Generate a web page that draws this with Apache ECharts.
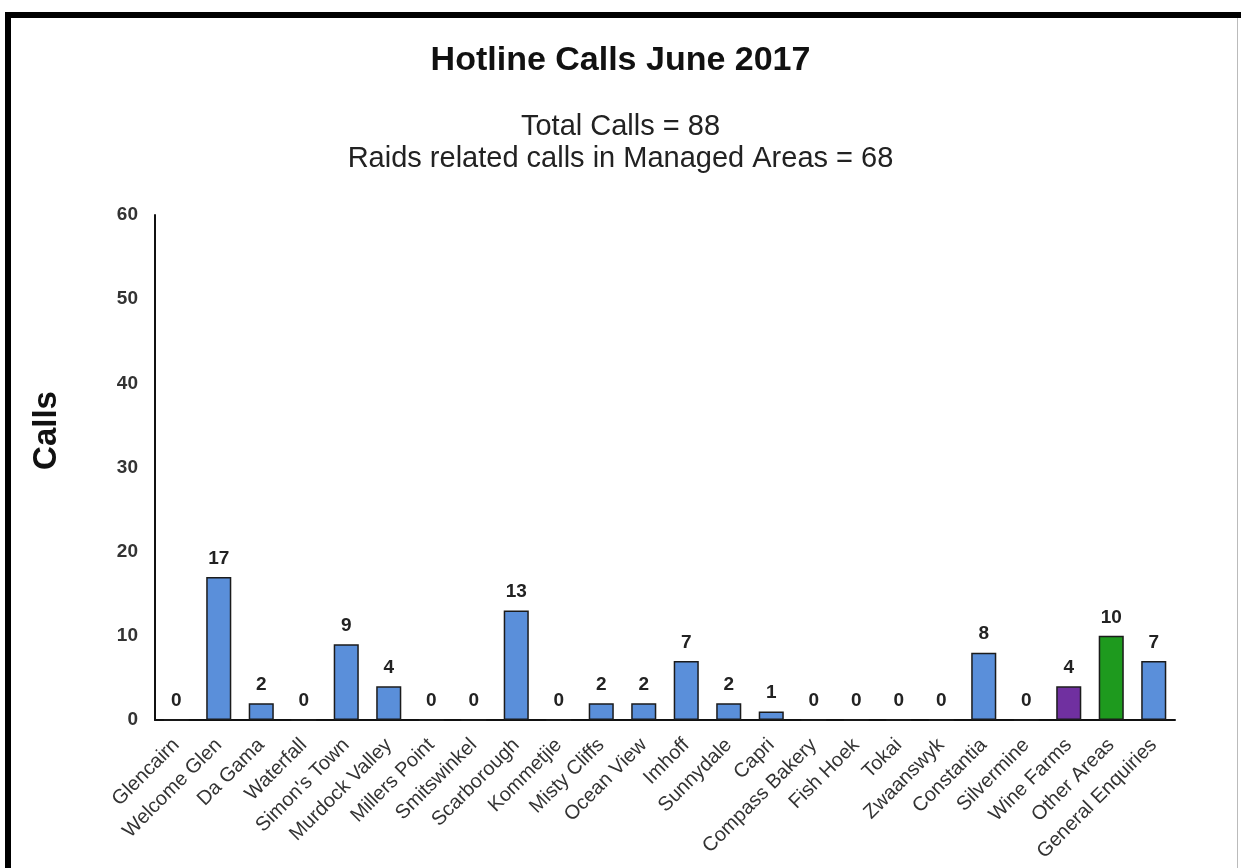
<!DOCTYPE html>
<html>
<head>
<meta charset="utf-8">
<style>
  html, body { margin: 0; padding: 0; background: #fff; }
  #chart { width: 1241px; height: 868px; }
</style>
<script src="https://cdn.jsdelivr.net/npm/echarts@6/dist/echarts.min.js"></script>
</head>
<body>
<div id="chart"></div>
<script>
const categories = ['Glencairn', 'Welcome Glen', 'Da Gama', 'Waterfall', "Simon's Town", 'Murdock Valley',
  'Millers Point', 'Smitswinkel', 'Scarborough', 'Kommetjie', 'Misty Cliffs', 'Ocean View', 'Imhoff',
  'Sunnydale', 'Capri', 'Compass Bakery', 'Fish Hoek', 'Tokai', 'Zwaanswyk', 'Constantia', 'Silvermine',
  'Wine Farms', 'Other Areas', 'General Enquiries'];
const calls = [0, 17, 2, 0, 9, 4, 0, 0, 13, 0, 2, 2, 7, 2, 1, 0, 0, 0, 0, 8, 0, 4, 10, 7];
const yTicks = [0, 10, 20, 30, 40, 50, 60];
const titleText = 'Hotline Calls June 2017';
const subtitleLines = ['Total Calls = 88', 'Raids related calls in Managed Areas = 68'];
const yAxisTitle = 'Calls';

const specialColors = { 'Wine Farms': '#7030A0', 'Other Areas': '#1E9A1E' };
const baseColor = '#5A8FDA';
const FONT = 'Arial, "Liberation Sans", sans-serif';

const chart = echarts.init(document.getElementById('chart'));
chart.setOption({
  backgroundColor: '#fff',
  animation: false,
  title: [
    { text: titleText, left: 'center', top: 39,
      textStyle: { fontFamily: FONT, fontSize: 34, fontWeight: 'bold', color: '#111' } },
    { text: subtitleLines.join('\n'), left: 'center', top: 106,
      textStyle: { fontFamily: FONT, fontSize: 29, fontWeight: 'normal', color: '#222', lineHeight: 32 } }
  ],
  graphic: [
    { type: 'rect', shape: { x: 5, y: 12, width: 6, height: 870 }, style: { fill: '#000' } },
    { type: 'rect', shape: { x: 5, y: 12, width: 1240, height: 6 }, style: { fill: '#000' } },
    { type: 'rect', shape: { x: 1237, y: 18, width: 1, height: 860 }, style: { fill: '#bbb' } }
  ],
  grid: { left: 155, right: 66, top: 215, bottom: 148, containLabel: false },
  xAxis: {
    type: 'category',
    data: categories,
    axisLine: { lineStyle: { color: '#111', width: 2 } },
    axisTick: { show: false },
    axisLabel: { rotate: 45, interval: 0, fontFamily: FONT, fontSize: 20, color: '#333', margin: 22 }
  },
  yAxis: {
    type: 'value',
    min: yTicks[0], max: yTicks[yTicks.length - 1], interval: 10,
    name: yAxisTitle, nameLocation: 'middle', nameGap: 92, nameRotate: 90,
    nameTextStyle: { fontFamily: FONT, fontSize: 33, fontWeight: 'bold', color: '#111', padding: [0, 0, 0, 74] },
    axisLine: { show: true, lineStyle: { color: '#111', width: 2 } },
    axisTick: { show: false },
    splitLine: { show: false },
    axisLabel: { fontFamily: FONT, fontSize: 19, fontWeight: 'bold', color: '#333', margin: 17 }
  },
  series: [{
    type: 'bar',
    data: calls,
    barWidth: '59%',
    itemStyle: {
      color: p => specialColors[p.name] || baseColor,
      borderColor: '#1b1b1b', borderWidth: 1.5
    },
    label: { show: true, position: 'top', distance: 9, fontFamily: FONT, fontSize: 19, fontWeight: 'bold', color: '#222' }
  }]
});
</script>
</body>
</html>
